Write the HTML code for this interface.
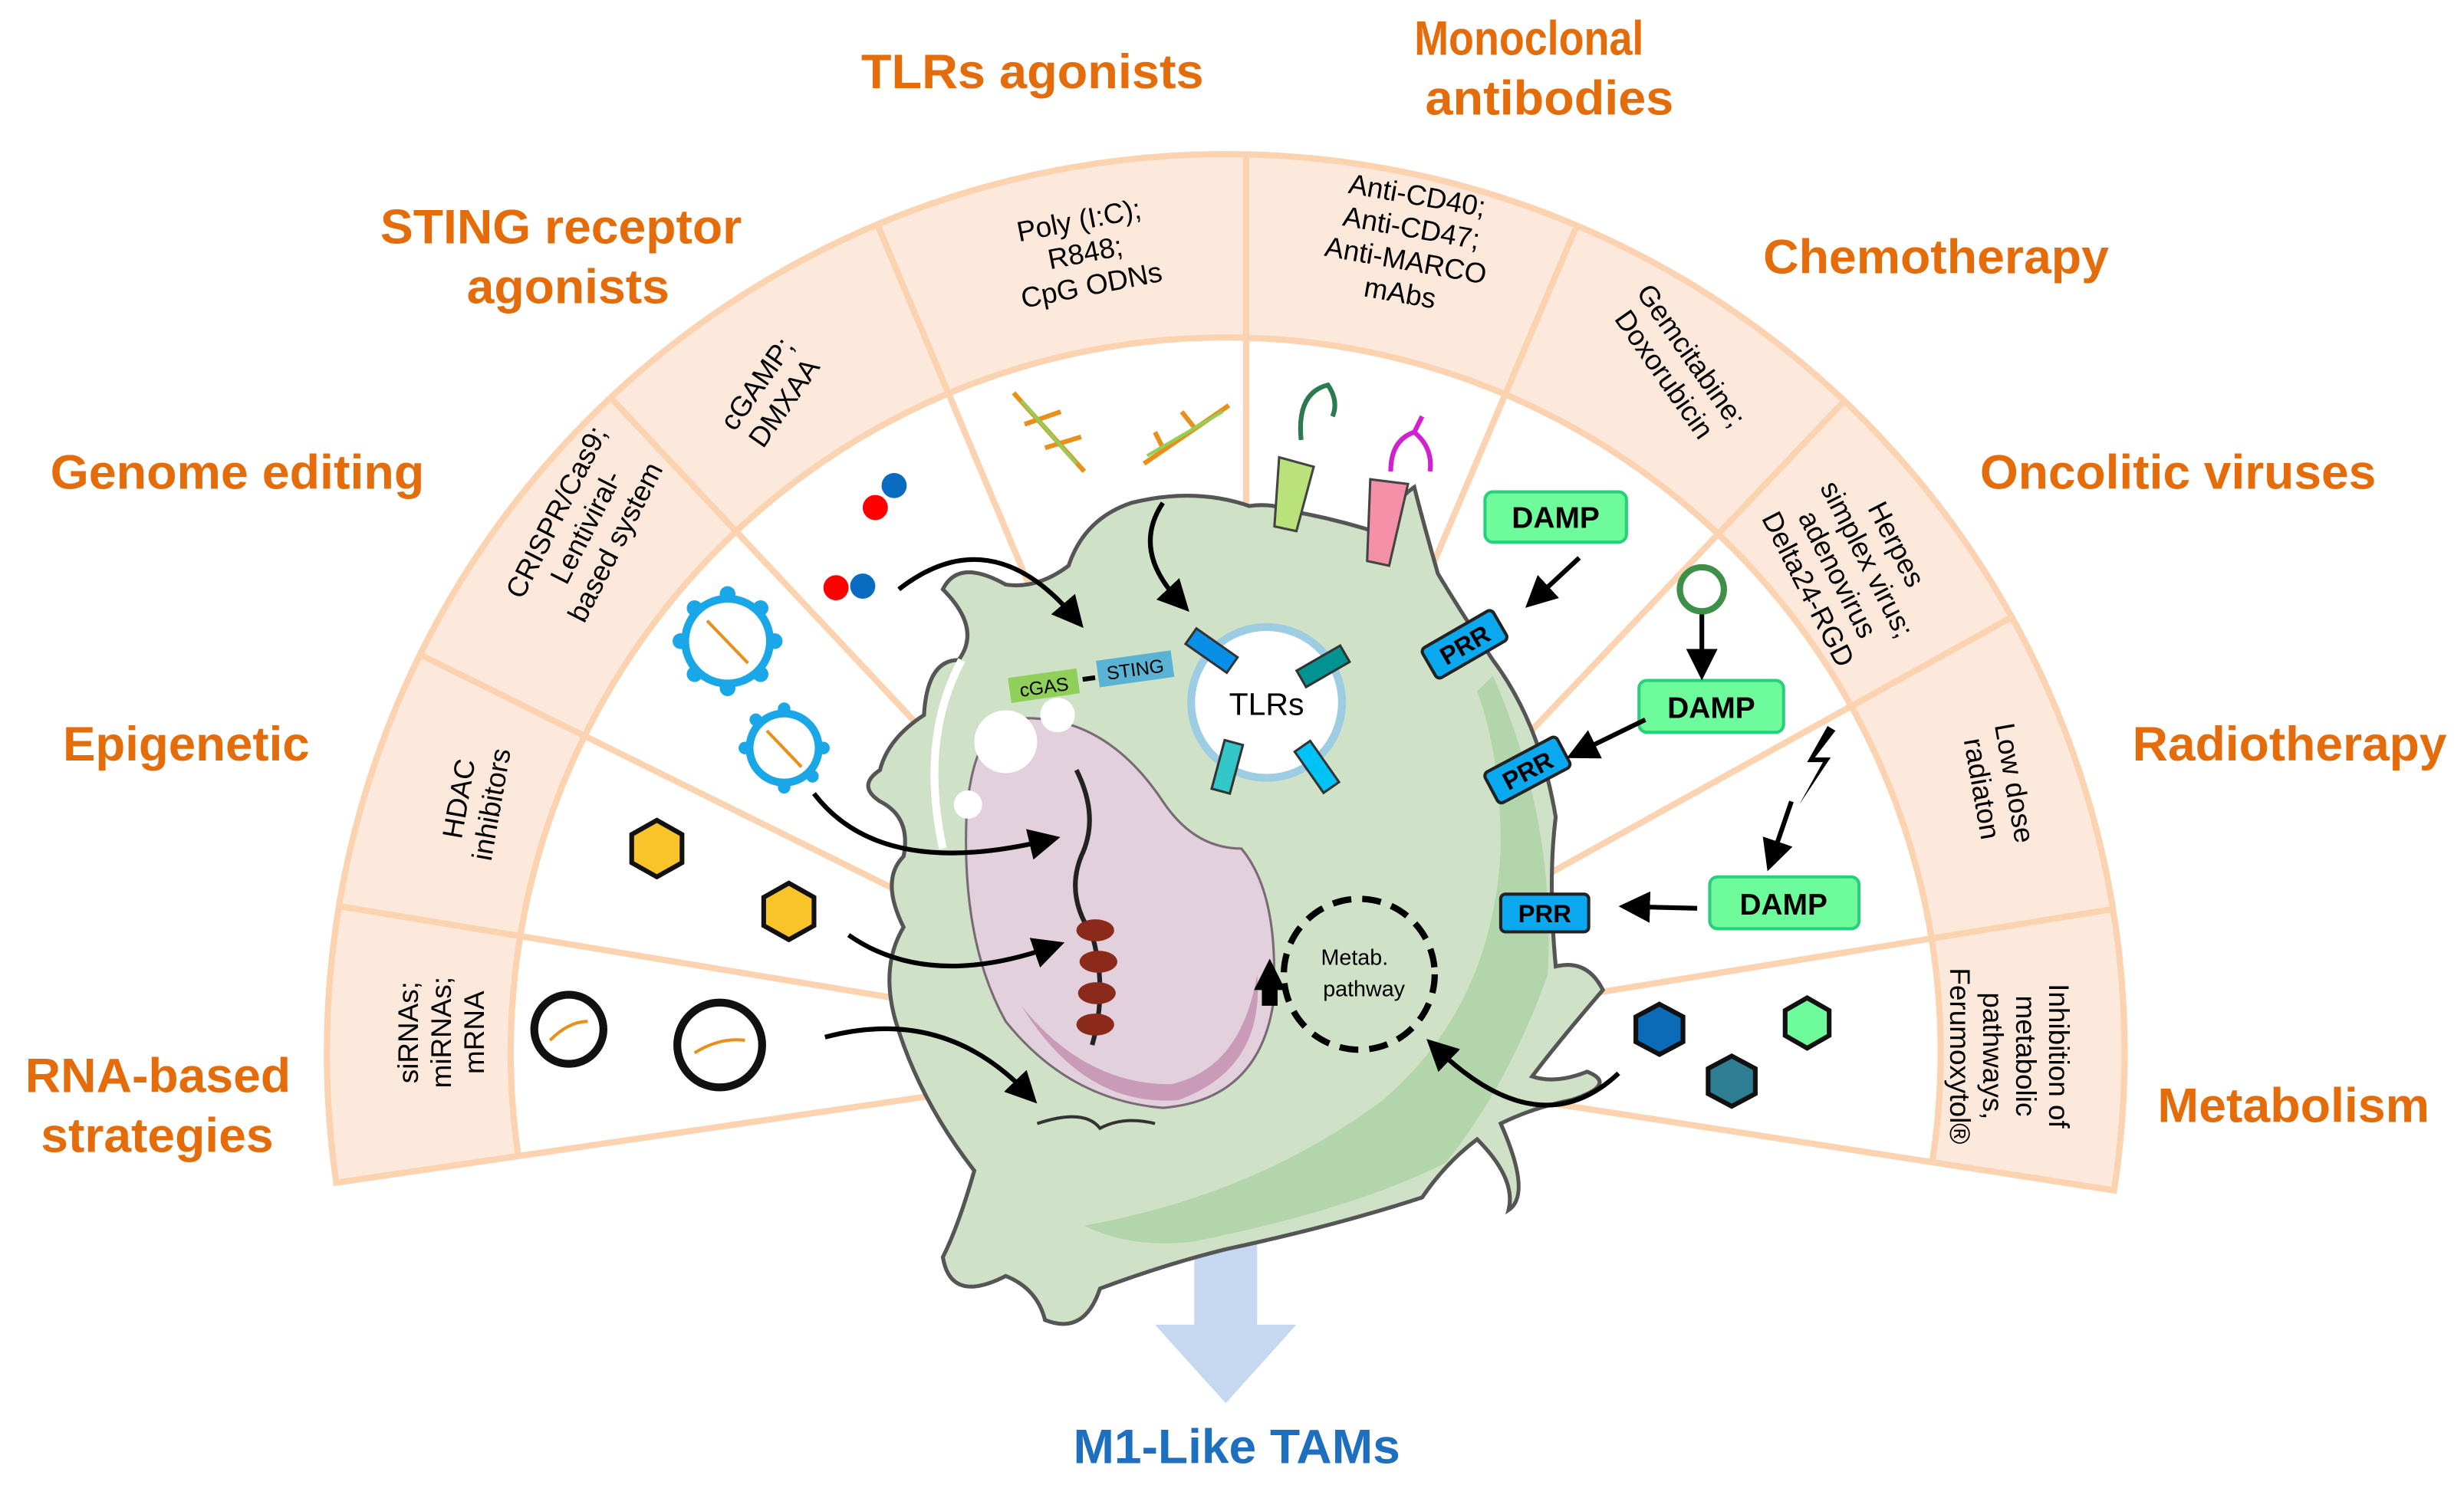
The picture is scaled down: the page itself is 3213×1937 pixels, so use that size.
<!DOCTYPE html>
<html><head><meta charset="utf-8"><style>
html,body{margin:0;padding:0;background:#fff;}
svg{display:block;}
.o{font-family:"Liberation Sans",sans-serif;font-weight:bold;fill:#e46c0a;font-size:31px;}
.b{font-family:"Liberation Sans",sans-serif;fill:#000;font-size:18px;text-anchor:middle;}
</style></head><body>
<svg width="3213" height="1937" viewBox="0 0 1568 945" preserveAspectRatio="none" xmlns="http://www.w3.org/2000/svg">
<defs>
<marker id="ah2" markerWidth="20" markerHeight="20" refX="10" refY="10" orient="auto" markerUnits="userSpaceOnUse"><path d="M0,0 L20,10 L0,20 Z" fill="#000"/></marker>
</defs>
<path d="M214 752.6 A572 572 0 1 1 1345.3 757.5 L1229.6 739.6 A455 455 0 1 0 329.8 735.7 Z" fill="#fde9dc" stroke="#fbd3b0" stroke-width="4"/>
<g stroke="#fbd3b0" stroke-width="4">
<line x1="215.7" y1="576.6" x2="632" y2="645.5"/>
<line x1="267.2" y1="416.5" x2="645.5" y2="603.5"/>
<line x1="388.5" y1="253" x2="677.3" y2="560.6"/>
<line x1="558.3" y1="142.7" x2="721.9" y2="531.7"/>
<line x1="793" y1="98" x2="793" y2="520"/>
<line x1="1003.5" y1="143.5" x2="838.6" y2="531.9"/>
<line x1="1173.8" y1="255" x2="883.3" y2="561.2"/>
<line x1="1280.3" y1="392.7" x2="911.2" y2="597.3"/>
<line x1="1344.6" y1="578.5" x2="928.1" y2="646"/>
<line x1="329.8" y1="735.7" x2="631.6" y2="691.7"/>
<line x1="1229.6" y1="739.6" x2="928.2" y2="693"/>
</g>
<g lengthAdjust="spacingAndGlyphs">
<text class="o" x="548" y="56" textLength="218" lengthAdjust="spacingAndGlyphs">TLRs agonists</text>
<text class="o" x="900" y="35" textLength="146" lengthAdjust="spacingAndGlyphs">Monoclonal</text>
<text class="o" x="907" y="73" textLength="158" lengthAdjust="spacingAndGlyphs">antibodies</text>
<text class="o" x="242" y="155" textLength="230" lengthAdjust="spacingAndGlyphs">STING receptor</text>
<text class="o" x="297" y="193" textLength="129" lengthAdjust="spacingAndGlyphs">agonists</text>
<text class="o" x="1122" y="174" textLength="220" lengthAdjust="spacingAndGlyphs">Chemotherapy</text>
<text class="o" x="32" y="311" textLength="238" lengthAdjust="spacingAndGlyphs">Genome editing</text>
<text class="o" x="1260" y="311" textLength="252" lengthAdjust="spacingAndGlyphs">Oncolitic viruses</text>
<text class="o" x="40" y="484" textLength="157" lengthAdjust="spacingAndGlyphs">Epigenetic</text>
<text class="o" x="1357" y="484" textLength="200" lengthAdjust="spacingAndGlyphs">Radiotherapy</text>
<text class="o" x="16" y="695" textLength="169" lengthAdjust="spacingAndGlyphs">RNA-based</text>
<text class="o" x="26" y="733" textLength="148" lengthAdjust="spacingAndGlyphs">strategies</text>
<text class="o" x="1373" y="714" textLength="173" lengthAdjust="spacingAndGlyphs">Metabolism</text>
<text class="o" x="683" y="931" textLength="208" lengthAdjust="spacingAndGlyphs" style="fill:#1f6fbf">M1-Like TAMs</text>
</g>
<g transform="translate(690,158) rotate(-11)"><text class="b" y="-12">Poly (I:C);</text><text class="b" y="9">R848;</text><text class="b" y="30">CpG ODNs</text></g>
<g transform="translate(897,152) rotate(10)"><text class="b" y="-22">Anti-CD40;</text><text class="b" y="-1">Anti-CD47;</text><text class="b" y="20">Anti-MARCO</text><text class="b" y="41">mAbs</text></g>
<g transform="translate(490,250) rotate(-55)"><text class="b" y="-4">cGAMP;</text><text class="b" y="17">DMXAA</text></g>
<g transform="translate(1068,232) rotate(55)"><text class="b" y="-4">Gemcitabine;</text><text class="b" y="17">Doxorubicin</text></g>
<g transform="translate(372,335) rotate(-63)"><text class="b" y="-14">CRISPR/Cas9;</text><text class="b" y="7">Lentiviral-</text><text class="b" y="28">based system</text></g>
<g transform="translate(1180,360) rotate(63)"><text class="b" y="-24">Herpes</text><text class="b" y="-3">simplex virus;</text><text class="b" y="18">adenovirus</text><text class="b" y="39">Delta24-RGD</text></g>
<g transform="translate(302,510) rotate(-80)"><text class="b" y="-4">HDAC</text><text class="b" y="17">inhibitors</text></g>
<g transform="translate(1272,500) rotate(80)"><text class="b" y="-4">Low dose</text><text class="b" y="17">radiaton</text></g>
<g transform="translate(280,657) rotate(-90)"><text class="b" y="-14">siRNAs;</text><text class="b" y="7">miRNAs;</text><text class="b" y="28">mRNA</text></g>
<g transform="translate(1280,672) rotate(90)"><text class="b" y="-24">Inhibition of</text><text class="b" y="-3">metabolic</text><text class="b" y="18">pathways,</text><text class="b" y="39">Ferumoxytol®</text></g>
<path d="M760 770 L800 770 L800 843 L825 843 L780 893 L735 843 L760 843 Z" fill="#c5d8ef"/>
<path d="M640 372 Q610 355 600 375 Q625 400 610 420 Q590 420 588 455 Q565 470 560 490 Q545 500 560 510 Q580 520 575 545 Q560 560 575 590 Q560 615 570 650 Q585 700 620 745 Q610 780 600 800 Q605 830 640 812 Q660 820 665 840 Q690 850 700 820 Q740 805 780 795 Q850 780 905 762 Q920 740 940 725 Q965 750 960 770 Q975 760 955 715 Q975 705 1000 700 Q1030 690 1010 682 Q990 690 975 685 Q990 665 1020 630 Q1010 610 990 615 Q985 560 990 520 Q980 460 950 420 Q930 390 915 365 Q905 330 900 310 Q885 320 880 340 Q850 330 820 325 Q810 320 795 322 Q760 310 720 320 Q690 330 680 360 Q660 375 640 372 Z" fill="#cfe2c7" stroke="#555" stroke-width="2.5"/>
<path d="M950 430 Q990 520 985 620 Q960 690 920 740 Q860 770 760 790 Q720 795 690 780 Q800 760 880 700 Q950 640 955 540 Q955 480 940 440 Z" fill="#b3d5ab"/>
<path d="M640 458 Q700 450 740 510 Q760 540 790 540 Q815 570 810 640 Q800 700 740 705 Q680 700 640 650 Q612 600 615 520 Q618 470 640 458 Z" fill="#e2d1dc" stroke="#7a6a75" stroke-width="1.5"/>
<path d="M650 640 Q690 690 745 690 Q790 680 800 620 Q805 680 750 700 Q690 705 650 640 Z" fill="#c99bb8"/>
<path d="M612 420 Q585 470 600 540" stroke="#fff" stroke-width="5" fill="none"/>
<circle cx="640" cy="472" r="20" fill="#fff"/><circle cx="673" cy="455" r="11" fill="#fff"/><circle cx="616" cy="512" r="9" fill="#fff"/>
<path d="M685 490 Q700 520 688 545 Q678 570 695 595 Q705 630 695 665" stroke="#222" stroke-width="3" fill="none"/>
<g fill="#8b2a1a"><ellipse cx="697" cy="592" rx="12" ry="7"/><ellipse cx="699" cy="612" rx="12" ry="7"/><ellipse cx="698" cy="632" rx="12" ry="7"/><ellipse cx="697" cy="652" rx="12" ry="7"/></g>
<path d="M660 715 Q690 705 700 718 Q715 710 735 715" stroke="#333" stroke-width="2" fill="none"/>
<g transform="rotate(-8 695 432)"><rect x="642" y="424" width="44" height="16" fill="#8fcf5a"/><text x="664" y="437" font-family="Liberation Sans" font-size="12" text-anchor="middle">cGAS</text><rect x="689" y="430" width="8" height="3" fill="#000"/><rect x="699" y="421" width="48" height="17" fill="#5ab3d3"/><text x="723" y="434" font-family="Liberation Sans" font-size="12" text-anchor="middle">STING</text></g>
<circle cx="806" cy="447" r="48" fill="#fff" stroke="#9ccde2" stroke-width="5"/>
<text x="806" y="455" font-family="Liberation Sans" font-size="20" text-anchor="middle">TLRs</text>
<rect x="755" y="408" width="32" height="12" fill="#0a8fe8" stroke="#333" stroke-width="1.5" transform="rotate(35 771 414)"/>
<rect x="826" y="418" width="32" height="12" fill="#009391" stroke="#333" stroke-width="1.5" transform="rotate(-30 842 424)"/>
<rect x="765" y="482" width="32" height="12" fill="#33c7c9" stroke="#333" stroke-width="1.5" transform="rotate(-75 781 488)"/>
<rect x="822" y="482" width="32" height="12" fill="#00c3f5" stroke="#333" stroke-width="1.5" transform="rotate(55 838 488)"/>
<path d="M814 291 L836 297 L825 338 L811 335 Z" fill="#b9e27b" stroke="#444" stroke-width="1.5"/>
<path d="M828 280 Q825 250 845 245 Q852 255 848 265" stroke="#2d7a4e" stroke-width="3" fill="none"/>
<path d="M872 305 L896 308 L884 360 L870 357 Z" fill="#f590a9" stroke="#444" stroke-width="1.5"/>
<path d="M885 300 Q885 280 900 275 Q905 265 905 265 M900 275 Q912 285 910 300" stroke="#d020d0" stroke-width="3" fill="none"/>
<g font-family="Liberation Sans" font-weight="bold" font-size="19" text-anchor="middle">
<rect x="945" y="313" width="90" height="32" rx="5" fill="#6efb9b" stroke="#29d07b" stroke-width="2"/><text x="990" y="336">DAMP</text>
<rect x="1043" y="433" width="92" height="33" rx="5" fill="#6efb9b" stroke="#29d07b" stroke-width="2"/><text x="1089" y="457">DAMP</text>
<rect x="1088" y="558" width="95" height="33" rx="5" fill="#6efb9b" stroke="#29d07b" stroke-width="2"/><text x="1135" y="582">DAMP</text>
</g>
<g font-family="Liberation Sans" font-weight="bold" font-size="16" text-anchor="middle">
<g transform="translate(932,410) rotate(-30)"><rect x="-26" y="-11" width="52" height="22" rx="3" fill="#0aa8ee" stroke="#222" stroke-width="2"/><text y="6">PRR</text></g>
<g transform="translate(972,490) rotate(-28)"><rect x="-26" y="-11" width="52" height="22" rx="3" fill="#0aa8ee" stroke="#222" stroke-width="2"/><text y="6">PRR</text></g>
<g transform="translate(983,581)"><rect x="-28" y="-12" width="56" height="24" rx="3" fill="#0aa8ee" stroke="#222" stroke-width="2"/><text y="6">PRR</text></g>
</g>
<g stroke="#000" stroke-width="3" fill="none" marker-end="url(#ah2)">
<path d="M572 375 Q630 330 683 392"/>
<path d="M740 320 Q720 350 750 382"/>
<path d="M518 505 Q560 560 665 535"/>
<path d="M540 595 Q590 630 668 603"/>
<path d="M525 660 Q600 640 653 695"/>
<path d="M1030 683 Q980 730 915 668"/>
<path d="M1005 355 L978 380"/>
<path d="M1083 388 L1083 423"/>
<path d="M1047 458 L1006 478"/>
<path d="M1140 510 L1128 545"/>
<path d="M1080 578 L1040 577"/>
</g>
<path d="M1163 462 L1150 485 L1160 485 L1145 512 L1165 482 L1155 482 L1168 465 Z" fill="#000"/>
<circle cx="865" cy="620" r="48" fill="none" stroke="#000" stroke-width="4" stroke-dasharray="12 7"/>
<path d="M808 610 L818 630 L813 630 L813 640 L803 640 L803 630 L798 630 Z" fill="#000"/>
<text x="862" y="614" font-family="Liberation Sans" font-size="14" text-anchor="middle">Metab.</text>
<text x="868" y="634" font-family="Liberation Sans" font-size="14" text-anchor="middle">pathway</text>
<circle cx="557" cy="323" r="8" fill="#f00"/><circle cx="569" cy="309" r="8" fill="#0a6cc0"/>
<circle cx="532" cy="374" r="8" fill="#f00"/><circle cx="549" cy="373" r="8" fill="#0a6cc0"/>
<g stroke="#1aa7e8" fill="#fff"><circle cx="463" cy="408" r="27" stroke-width="5"/><circle cx="499" cy="476" r="22" stroke-width="5"/></g>
<g fill="#1aa7e8"><circle cx="463" cy="378" r="5"/><circle cx="493" cy="408" r="5"/><circle cx="463" cy="438" r="5"/><circle cx="433" cy="408" r="5"/><circle cx="484" cy="387" r="5"/><circle cx="442" cy="429" r="5"/><circle cx="484" cy="429" r="5"/><circle cx="442" cy="387" r="5"/>
<circle cx="499" cy="451" r="4"/><circle cx="524" cy="476" r="4"/><circle cx="499" cy="501" r="4"/><circle cx="474" cy="476" r="4"/><circle cx="517" cy="494" r="4"/><circle cx="481" cy="458" r="4"/></g>
<path d="M450 395 L476 422 M488 465 L510 488" stroke="#e8901a" stroke-width="2"/>
<circle cx="362" cy="655" r="22" fill="#fff" stroke="#111" stroke-width="5"/>
<circle cx="458" cy="665" r="27" fill="#fff" stroke="#111" stroke-width="5"/>
<path d="M350 662 Q362 650 374 650 M442 670 Q458 660 474 662" stroke="#e8901a" stroke-width="2" fill="none"/>
<path d="M645 250 L690 300 M652 270 L675 262 M665 285 L688 278" stroke="#e8901a" stroke-width="3" fill="none"/>
<path d="M650 255 L685 295" stroke="#8fcf5a" stroke-width="2" fill="none"/>
<path d="M728 295 L782 258 M740 285 L735 275 M760 272 L752 262" stroke="#e8901a" stroke-width="3" fill="none"/>
<path d="M730 290 L778 262" stroke="#8fcf5a" stroke-width="2" fill="none"/>
<circle cx="1083" cy="375" r="14" fill="none" stroke="#3e8f48" stroke-width="4"/>
<g stroke="#111" stroke-width="3">
<polygon points="418,522 434,531 434,549 418,558 402,549 402,531" fill="#f9c42a"/>
<polygon points="502,562 518,571 518,589 502,598 486,589 486,571" fill="#f9c42a"/>
<polygon points="1056,639 1071,647 1071,663 1056,671 1041,663 1041,647" fill="#0a6cb8"/>
<polygon points="1102,672 1117,680 1117,696 1102,704 1087,696 1087,680" fill="#2e7f94"/>
<polygon points="1150,635 1164,643 1164,659 1150,667 1136,659 1136,643" fill="#6efb9b"/>
</g>
</svg>
</body></html>
